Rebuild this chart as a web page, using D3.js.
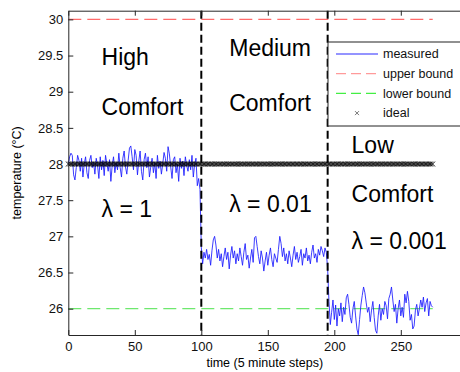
<!DOCTYPE html>
<html>
<head>
<meta charset="utf-8">
<script src="https://cdn.jsdelivr.net/npm/d3@7"></script>
<style>
  body { margin: 0; background: #fff; }
  svg { display: block; font-family: "Liberation Sans", Arial, sans-serif; }
  .axis path, .axis line { stroke: #262626; }
  .axis text { font-size: 13px; fill: #111; }
</style>
</head>
<body>
<div id="chart"></div>
<script>
// measured temperature, one value per 5 minute step
const highComfort = [
  28.00, 28.10, 28.15, 28.12, 27.85, 27.78, 27.95, 28.12, 28.05, 27.90,
  28.08, 27.82, 28.00, 28.10, 27.88, 27.80, 28.05, 28.12, 27.95, 28.02,
  27.86, 28.08, 27.98, 27.80, 28.10, 27.92, 28.05, 27.84, 28.12, 28.00,
  27.90, 28.06, 27.76, 27.98, 28.10, 27.88, 28.02, 27.92, 28.15, 27.95,
  27.82, 28.08, 28.18, 27.96, 27.86, 28.05, 28.22, 28.25, 28.10, 27.92,
  28.20, 28.12, 27.85, 28.04, 28.18, 27.90, 27.78, 28.06, 28.15, 27.95,
  28.10, 27.82, 27.96, 28.08, 27.88, 28.02, 27.80, 28.12, 27.94, 28.04,
  27.86, 28.00, 28.16, 28.08, 27.90, 28.24, 28.14, 27.96, 27.80, 28.06,
  28.10, 27.88, 28.00, 27.76, 28.08, 27.94, 28.04, 27.84, 28.10, 27.98,
  27.90, 28.06, 27.92, 28.12, 27.82, 28.00, 28.08, 27.70, 27.80, 27.65
];
const mediumComfort = [
  26.85, 26.62, 26.78, 26.70, 26.82, 26.68, 26.75, 26.60, 26.80, 26.95,
  27.00, 26.88, 26.70, 26.82, 26.66, 26.76, 26.58, 26.72, 26.84, 26.68,
  26.78, 26.55, 26.74, 26.86, 26.70, 26.80, 26.62, 26.76, 26.66, 26.84,
  26.72, 26.60, 26.78, 26.90, 26.68, 26.74, 26.56, 26.70, 26.82, 26.64,
  26.98, 27.00, 26.86, 26.72, 26.62, 26.80, 26.70, 26.52, 26.66, 26.78,
  26.60, 26.74, 26.84, 26.68, 26.58, 26.76, 26.70, 26.64, 26.82, 27.00,
  26.90, 26.72, 26.84, 26.66, 26.76, 26.62, 26.80, 26.70, 26.58, 26.74,
  26.86, 26.68, 26.78, 26.64, 26.72, 26.82, 26.60, 26.76, 26.70, 26.84,
  26.66, 26.74, 26.62, 26.78, 26.88, 26.70, 26.76, 26.64, 26.82, 26.74,
  26.86, 26.80, 26.72, 26.84, 26.78
];
const lowComfort = [
  26.55, 26.10, 25.78, 25.95, 26.12, 25.85, 26.05, 25.76, 26.00, 25.90,
  26.08, 25.82, 26.02, 25.92, 26.15, 26.20, 26.06, 25.88, 25.80, 26.00,
  26.10, 25.90, 25.72, 25.64, 25.85, 26.05, 26.18, 26.30, 26.22, 26.08,
  25.95, 26.02, 25.82, 25.98, 26.10, 25.88, 25.70, 25.66, 25.90, 26.06,
  25.84, 26.00, 25.92, 26.10, 26.04, 25.86, 26.14, 26.20, 26.30, 26.12,
  25.96, 26.06, 25.80, 26.00, 26.12, 25.90, 26.02, 25.88, 26.20, 26.08,
  26.24, 26.10, 25.84, 25.92, 25.72, 25.76, 25.98, 26.06, 25.90, 26.00,
  26.12, 26.02, 26.16, 25.96, 26.08, 26.14, 25.90, 26.10, 26.04, 26.02
];
const measured = highComfort.concat(mediumComfort, lowComfort);

const upperBound = 30;
const lowerBound = 26;
const idealTemp = 28;
const switchSteps = [100, 195];

const xTicks = [0, 50, 100, 150, 200, 250];
const yTicks = [26, 26.5, 27, 27.5, 28, 28.5, 29, 29.5, 30];

const legendItems = [
  {label: "measured", kind: "line", color: "#2b2bff", dash: null},
  {label: "upper bound", kind: "line", color: "#ff9a9a", dash: "10,5"},
  {label: "lower bound", kind: "line", color: "#44ee44", dash: "10,5"},
  {label: "ideal", kind: "marker", color: "#555"}
];

const annotations = [
  {text: "High", t: 25, v: 29.37, size: 23},
  {text: "Comfort", t: 25, v: 28.68, size: 23},
  {text: "Medium", t: 121, v: 29.5, size: 23},
  {text: "Comfort", t: 121, v: 28.73, size: 23},
  {text: "Low", t: 213, v: 28.15, size: 23},
  {text: "Comfort", t: 213, v: 27.48, size: 23},
  {text: "\u03bb = 1", t: 25, v: 27.27, size: 23},
  {text: "\u03bb = 0.01", t: 121, v: 27.33, size: 23},
  {text: "\u03bb = 0.001", t: 213, v: 26.82, size: 23}
];

const width = 460, height = 372;
const margin = {left: 68.3, top: 10.7};
const plotW = 399, plotH = 324.3;

const svg = d3.select("#chart").append("svg")
  .attr("width", width)
  .attr("height", height);

const x = d3.scaleLinear().domain([0, 300]).range([margin.left, margin.left + plotW]);
const y = d3.scaleLinear().domain([25.636, 30.12]).range([margin.top + plotH, margin.top]);

const steps = measured.map((d, i) => i);
const lastStep = measured.length - 1;

const g = svg.append("g");

// bounds
g.append("line")
  .attr("x1", x(0)).attr("x2", x(lastStep))
  .attr("y1", y(upperBound)).attr("y2", y(upperBound))
  .attr("stroke", "#ff6a6a").attr("stroke-width", 1.1)
  .attr("stroke-dasharray", "13,6");
g.append("line")
  .attr("x1", x(0)).attr("x2", x(lastStep))
  .attr("y1", y(lowerBound)).attr("y2", y(lowerBound))
  .attr("stroke", "#6ee86e").attr("stroke-width", 1.1)
  .attr("stroke-dasharray", "13,6");

// measured
const line = d3.line()
  .x((d, i) => x(i))
  .y(d => y(d));
g.append("path")
  .datum(measured)
  .attr("fill", "none")
  .attr("stroke", "#1a1aff")
  .attr("stroke-width", 0.85)
  .attr("d", line);

// ideal markers
const mk = 2.4;
g.append("g").selectAll("path")
  .data(steps)
  .enter().append("path")
  .attr("d", d => `M${x(d) - mk},${y(idealTemp) - mk}L${x(d) + mk},${y(idealTemp) + mk}M${x(d) - mk},${y(idealTemp) + mk}L${x(d) + mk},${y(idealTemp) - mk}`)
  .attr("stroke", "#000")
  .attr("stroke-width", 0.75);

// switching lines
g.selectAll(".switch")
  .data(switchSteps)
  .enter().append("line")
  .attr("class", "switch")
  .attr("x1", d => x(d)).attr("x2", d => x(d))
  .attr("y1", y.range()[1]).attr("y2", y.range()[0])
  .attr("stroke", "#000").attr("stroke-width", 2)
  .attr("stroke-dasharray", "8,4");

// annotations
g.selectAll(".note")
  .data(annotations)
  .enter().append("text")
  .attr("class", "note")
  .attr("x", d => x(d.t))
  .attr("y", d => y(d.v))
  .attr("font-size", d => d.size + "px")
  .attr("fill", "#000")
  .text(d => d.text);

// axes (inward ticks, matlab style)
svg.append("g").attr("class", "axis")
  .attr("transform", `translate(0,${y.range()[0]})`)
  .call(d3.axisBottom(x).tickValues(xTicks).tickSize(-5).tickPadding(7).tickSizeOuter(0));
svg.append("g").attr("class", "axis")
  .attr("transform", `translate(0,${y.range()[1]})`)
  .call(d3.axisTop(x).tickValues(xTicks).tickSize(-5).tickFormat("").tickSizeOuter(0));
svg.append("g").attr("class", "axis")
  .attr("transform", `translate(${x.range()[0]},0)`)
  .call(d3.axisLeft(y).tickValues(yTicks).tickSize(-5).tickPadding(5).tickSizeOuter(0)
    .tickFormat(d3.format("")));
svg.append("g").attr("class", "axis")
  .attr("transform", `translate(${x.range()[1]},0)`)
  .call(d3.axisRight(y).tickValues(yTicks).tickSize(-5).tickFormat("").tickSizeOuter(0));

// legend
const lg = svg.append("g").attr("transform", "translate(328,42)");
lg.append("rect")
  .attr("width", 150).attr("height", 84)
  .attr("fill", "#fff").attr("stroke", "#222").attr("stroke-width", 1);
const rows = lg.selectAll(".row")
  .data(legendItems)
  .enter().append("g")
  .attr("transform", (d, i) => `translate(0,${12 + i * 19.7})`);
rows.filter(d => d.kind === "line").append("line")
  .attr("x1", 8).attr("x2", 50)
  .attr("stroke", d => d.color).attr("stroke-width", 1.2)
  .attr("stroke-dasharray", d => d.dash);
rows.filter(d => d.kind === "marker").append("path")
  .attr("d", "M27,-2L31,2M27,2L31,-2")
  .attr("stroke", d => d.color).attr("stroke-width", 0.8);
rows.append("text")
  .attr("x", 55).attr("dy", "0.35em")
  .attr("font-size", "12.5px").attr("fill", "#111")
  .text(d => d.label);

// axis titles
svg.append("text")
  .attr("x", (x.range()[0] + x.range()[1]) / 2 - 3)
  .attr("y", 367)
  .attr("text-anchor", "middle")
  .attr("font-size", "12.5px")
  .text("time (5 minute steps)");
svg.append("text")
  .attr("transform", `translate(21,${(y.range()[0] + y.range()[1]) / 2}) rotate(-90)`)
  .attr("text-anchor", "middle")
  .attr("font-size", "12.5px")
  .text("temperature (\u00b0C)");
</script>
</body>
</html>
